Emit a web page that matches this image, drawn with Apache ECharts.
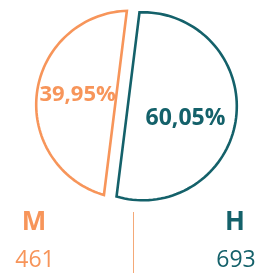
<!DOCTYPE html>
<html>
<head>
<meta charset="utf-8">
<script src="https://cdn.jsdelivr.net/npm/echarts@6/dist/echarts.min.js"></script>
<style>
html, body { margin: 0; padding: 0; background: #fff; }
#main { width: 257px; height: 273px; }
</style>
</head>
<body>
<div id="main"></div>
<script>
var groups = ['M', 'H'];
var counts = [461, 693];
var colors = ['#f7955a', '#14616a'];

var total = counts[0] + counts[1];

// circle geometry (pixels)
var cx = 136.5, cy = 105.5, radius = 94, gap = 12.7;
var tilt = 7.1 * Math.PI / 180;
var dirs = [Math.PI + tilt, tilt]; // outward direction of each piece
var labelDist = [53, 43];
var labelDy = [-3, 7];

// central angle of a circle segment holding fraction f of the area
function segAngle(f) {
  var lo = 0, hi = 2 * Math.PI;
  for (var i = 0; i < 60; i++) {
    var m = (lo + hi) / 2;
    if ((m - Math.sin(m)) / (2 * Math.PI) < f) lo = m; else hi = m;
  }
  return (lo + hi) / 2;
}

function pct(v) {
  return (v / total * 100).toFixed(2).replace('.', ',') + '%';
}

var chart = echarts.init(document.getElementById('main'));

chart.setOption({
  animation: false,
  series: [{
    type: 'custom',
    coordinateSystem: 'none',
    silent: true,
    data: counts,
    renderItem: function (params, api) {
      var i = params.dataIndex;
      var v = api.value(0);
      var half = segAngle(v / total) / 2;
      var phi = dirs[i];
      var pcx = cx + gap / 2 * Math.cos(phi);
      var pcy = cy + gap / 2 * Math.sin(phi);
      var pts = [];
      var n = 80;
      for (var k = 0; k <= n; k++) {
        var t = phi - half + 2 * half * k / n;
        pts.push([pcx + radius * Math.cos(t), pcy + radius * Math.sin(t)]);
      }
      return {
        type: 'group',
        children: [{
          type: 'polygon',
          shape: { points: pts },
          style: { fill: '#fff', stroke: colors[i], lineWidth: 2.6, lineJoin: 'miter' }
        }, {
          type: 'text',
          style: {
            text: pct(v),
            x: pcx + labelDist[i] * Math.cos(phi),
            y: pcy + labelDist[i] * Math.sin(phi) + labelDy[i],
            fill: colors[i],
            font: 'bold ' + (i == 0 ? 22 : 23) + 'px "Open Sans"',
            align: 'center',
            verticalAlign: 'middle'
          }
        }]
      };
    }
  }],
  graphic: [
    { type: 'line', shape: { x1: 133.5, y1: 212, x2: 133.5, y2: 273 }, style: { stroke: '#f4a978', lineWidth: 1 } },
    { type: 'text', x: 34, y: 223, style: { text: groups[0], fill: colors[0], font: 'bold 26px "Open Sans"', align: 'center', verticalAlign: 'middle' } },
    { type: 'text', x: 35, y: 260, style: { text: String(counts[0]), fill: colors[0], font: '23px "Open Sans"', align: 'center', verticalAlign: 'middle' } },
    { type: 'text', x: 235, y: 223, style: { text: groups[1], fill: colors[1], font: 'bold 26px "Open Sans"', align: 'center', verticalAlign: 'middle' } },
    { type: 'text', x: 236, y: 260, style: { text: String(counts[1]), fill: colors[1], font: '23px "Open Sans"', align: 'center', verticalAlign: 'middle' } }
  ]
});
</script>
</body>
</html>
